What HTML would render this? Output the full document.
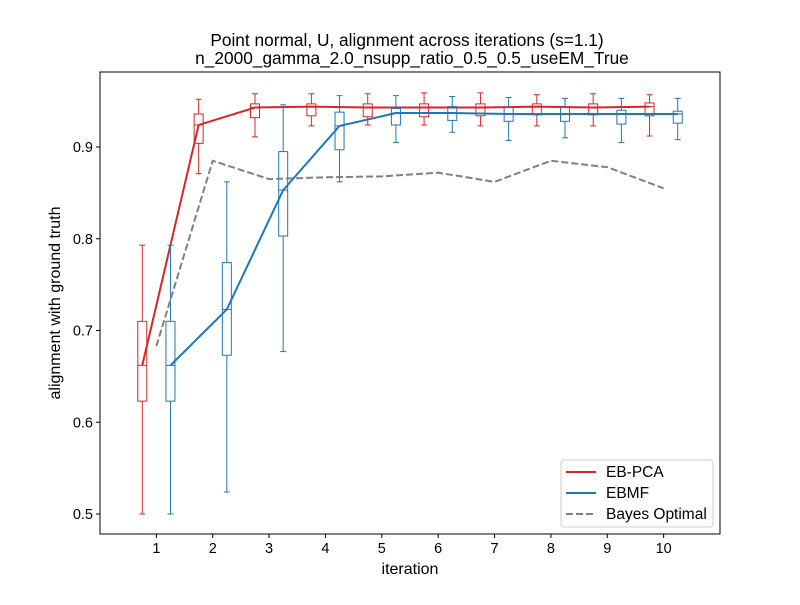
<!DOCTYPE html>
<html><head><meta charset="utf-8"><style>
body{margin:0;background:#fff;font-family:"Liberation Sans",sans-serif}
svg text{font-family:"Liberation Sans",sans-serif}
</style></head><body>
<svg id="chart" width="800" height="600" xmlns="http://www.w3.org/2000/svg">
<rect width="800" height="600" fill="#fff"/>
<text x="407" y="46" font-size="17.3" text-anchor="middle">Point normal, U, alignment across iterations (s=1.1)</text>
<text x="412" y="64" font-size="17.3" text-anchor="middle">n_2000_gamma_2.0_nsupp_ratio_0.5_0.5_useEM_True</text>
<g id="plot"></g>
<text x="410" y="574" font-size="16" text-anchor="middle">iteration</text>
<text transform="translate(60,303) rotate(-90)" font-size="16" text-anchor="middle">alignment with ground truth</text>
<g>
<rect x="561" y="460" width="152" height="67" rx="3" fill="#fff" stroke="#ccc"/>
<line x1="566" y1="472" x2="596" y2="472" stroke="#d62728" stroke-width="2"/>
<text x="606" y="477" font-size="15.5">EB-PCA</text>
<line x1="566" y1="493" x2="596" y2="493" stroke="#1f77b4" stroke-width="2"/>
<text x="606" y="498" font-size="15.5">EBMF</text>
<line x1="566" y1="514" x2="596" y2="514" stroke="#808080" stroke-width="2" stroke-dasharray="7,3"/>
<text x="606" y="519" font-size="15.5">Bayes Optimal</text>
</g>
</svg>
<script>
const iterations=[1,2,3,4,5,6,7,8,9,10];
const pcaLo=[0.500,0.871,0.911,0.923,0.924,0.924,0.923,0.923,0.923,0.912];
const pcaQ1=[0.623,0.904,0.932,0.934,0.933,0.933,0.934,0.935,0.935,0.934];
const pcaMed=[0.662,0.924,0.943,0.944,0.943,0.943,0.943,0.944,0.943,0.944];
const pcaQ3=[0.710,0.936,0.947,0.947,0.947,0.947,0.947,0.947,0.947,0.948];
const pcaHi=[0.793,0.952,0.958,0.958,0.958,0.959,0.959,0.957,0.958,0.957];
const mfLo=[0.500,0.524,0.677,0.862,0.905,0.916,0.907,0.910,0.905,0.908];
const mfQ1=[0.623,0.673,0.803,0.897,0.924,0.929,0.928,0.928,0.925,0.926];
const mfMed=[0.662,0.723,0.853,0.923,0.937,0.937,0.936,0.936,0.936,0.936];
const mfQ3=[0.710,0.774,0.895,0.938,0.942,0.944,0.943,0.943,0.940,0.939];
const mfHi=[0.793,0.862,0.946,0.956,0.956,0.955,0.954,0.953,0.953,0.953];
const bayes=[0.683,0.885,0.865,0.867,0.868,0.872,0.862,0.885,0.878,0.855];
const yTicks=[0.5,0.6,0.7,0.8,0.9];
const NS="http://www.w3.org/2000/svg";
const X0=100,X1=720,Y0=72,Y1=534;
const xs=v=>X0+(v-0.0)/11*(X1-X0);
const ys=v=>514-(v-0.5)*917.5;
const g=document.getElementById('plot');
function mk(t,a){const e=document.createElementNS(NS,t);for(const k in a)e.setAttribute(k,a[k]);g.appendChild(e);return e;}
iterations.forEach(i=>{
 const t=mk('line',{x1:xs(i),x2:xs(i),y1:Y1,y2:Y1+4,stroke:'#000'});
 
 
 const l=mk('text',{x:xs(i),y:Y1+19,'font-size':14.5,'text-anchor':'middle'});l.textContent=i;
 
 
});
yTicks.forEach(v=>{
 const t=mk('line',{x1:X0-4,x2:X0,y1:ys(v),y2:ys(v),stroke:'#000'});
 
 
 const l=mk('text',{x:X0-7,y:ys(v)+5,'font-size':14.5,'text-anchor':'end'});l.textContent=v.toFixed(1);
 
 
});
function boxes(off,lo,q1,med,q3,hi,col,name){
 iterations.forEach((it,k)=>{
  const x=xs(it+off);
  const grp=document.createElementNS(NS,'g');g.appendChild(grp);
  
  
  const add=(t,a)=>{const e=document.createElementNS(NS,t);for(const kk in a)e.setAttribute(kk,a[kk]);grp.appendChild(e);};
  add('line',{x1:x,x2:x,y1:ys(lo[k]),y2:ys(q1[k]),stroke:col});
  add('line',{x1:x,x2:x,y1:ys(q3[k]),y2:ys(hi[k]),stroke:col});
  add('line',{x1:x-3,x2:x+3,y1:ys(lo[k]),y2:ys(lo[k]),stroke:col});
  add('line',{x1:x-3,x2:x+3,y1:ys(hi[k]),y2:ys(hi[k]),stroke:col});
  add('rect',{x:x-4.5,y:ys(q3[k]),width:9,height:ys(q1[k])-ys(q3[k]),fill:'none',stroke:col});
  add('line',{x1:x-4.5,x2:x+4.5,y1:ys(med[k]),y2:ys(med[k]),stroke:col});
 });
 const p=mk('polyline',{points:iterations.map((it,k)=>xs(it+off)+','+ys(med[k])).join(' '),fill:'none',stroke:col,'stroke-width':2});
 
 
}
boxes(-0.25,pcaLo,pcaQ1,pcaMed,pcaQ3,pcaHi,'#d62728','eb-pca');
boxes(0.25,mfLo,mfQ1,mfMed,mfQ3,mfHi,'#1f77b4','ebmf');
const b=mk('polyline',{points:iterations.map((it,k)=>xs(it)+','+ys(bayes[k])).join(' '),fill:'none',stroke:'#808080','stroke-width':2,'stroke-dasharray':'7,3'});


const fr=mk('rect',{x:X0,y:Y0,width:X1-X0,height:Y1-Y0,fill:'none',stroke:'#000'});


</script>
</body></html>
